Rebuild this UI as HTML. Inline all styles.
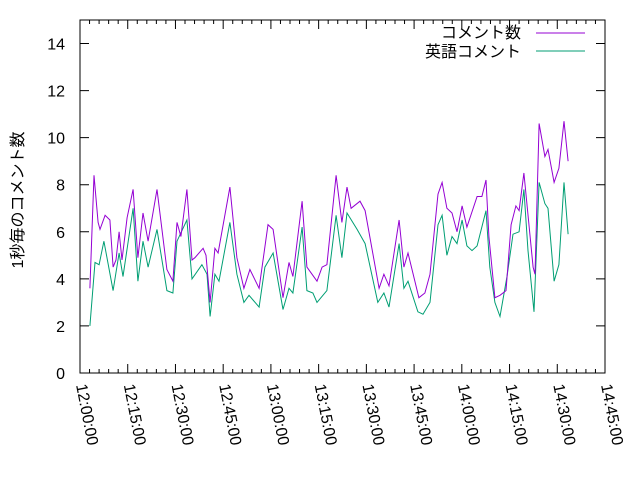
<!DOCTYPE html>
<html><head><meta charset="utf-8"><style>
body{margin:0;background:#fff}
svg text{font-family:"Liberation Sans","Noto Sans CJK JP",sans-serif;font-size:16px;fill:#000}
</style></head><body>
<svg id="chart" width="640" height="480" xmlns="http://www.w3.org/2000/svg">
<rect x="80" y="20" width="525" height="353" fill="none" stroke="#000" stroke-width="1"/>
<g id="axes"></g>
<g id="series"></g>
<text x="0" y="0" transform="translate(23,200) rotate(-90)" text-anchor="middle">1秒毎のコメント数</text>
<g>
<text x="521" y="38" text-anchor="end">コメント数</text>
<line x1="536" y1="33" x2="585" y2="33" stroke="#9400d3"/>
<text x="521" y="57" text-anchor="end">英語コメント</text>
<line x1="536" y1="51" x2="585" y2="51" stroke="#009e73"/>
</g>
</svg>
<script>
const yTicks=[0,2,4,6,8,10,12,14];
const xTickLabels=["12:00:00","12:15:00","12:30:00","12:45:00","13:00:00","13:15:00","13:30:00","13:45:00","14:00:00","14:15:00","14:30:00","14:45:00"];
const totalMinutes=[3.1,4.4,5.7,6.3,7.9,9.4,10.4,11.3,12.3,13.2,14.8,16.7,18.2,19.8,21.4,24.2,27.3,29.2,30.5,31.7,33.6,35.2,36.1,38.7,39.6,40.9,42.4,43.4,47.1,49.3,51.5,53.4,56.3,59.1,60.7,63.8,65.7,66.9,69.8,71.3,74.5,76.1,77.6,80.5,82.3,83.9,85.2,88.0,89.6,94.0,95.5,97.1,100.3,101.8,103.1,106.5,108.4,110.0,112.5,113.8,115.3,116.9,118.5,120.1,121.6,124.8,126.3,127.6,128.5,130.4,132.0,133.9,135.5,137.0,138.0,139.5,142.4,143.0,144.3,146.1,147.1,149.0,150.5,152.1,153.4];
const totalValues=[3.6,8.4,6.4,6.1,6.7,6.5,4.5,4.8,6.0,4.8,6.6,7.8,4.9,6.8,5.6,7.8,4.4,3.9,6.4,5.8,7.8,4.8,4.9,5.3,5.0,3.0,5.3,5.1,7.9,4.9,3.6,4.4,3.6,6.3,6.1,3.2,4.7,4.1,7.3,4.5,3.9,4.5,4.6,8.4,6.4,7.9,7.0,7.3,6.9,3.6,4.2,3.7,6.5,4.5,5.1,3.2,3.4,4.2,7.6,8.1,7.0,6.8,6.0,7.1,6.2,7.5,7.5,8.2,5.8,3.2,3.3,3.5,6.3,7.1,6.9,8.5,4.5,4.2,10.6,9.2,9.5,8.1,8.7,10.7,9.0];
const englishMinutes=[3.1,4.7,6.0,7.5,10.4,12.3,13.5,16.7,18.2,19.8,21.4,24.2,27.3,29.2,30.5,33.6,35.2,38.3,39.9,40.9,42.4,43.7,47.1,49.3,51.5,53.1,56.3,58.1,60.7,63.8,65.7,66.9,69.8,71.3,73.2,74.5,77.6,80.5,82.3,83.9,87.1,89.6,93.6,95.5,97.1,100.3,101.8,103.1,106.2,107.8,110.0,112.5,113.8,115.3,116.9,118.5,120.1,121.6,123.2,124.8,127.6,128.8,130.4,132.0,134.2,136.1,138.0,139.5,140.8,142.7,144.3,146.1,147.1,149.0,150.5,152.1,153.4];
const englishValues=[2.0,4.7,4.6,5.6,3.5,5.1,4.1,7.0,3.9,5.6,4.5,6.1,3.5,3.4,5.6,6.5,4.0,4.6,4.2,2.4,4.2,3.9,6.4,4.2,3.0,3.3,2.8,4.5,5.1,2.7,3.6,3.4,6.2,3.5,3.4,3.0,3.5,6.7,4.9,6.8,6.1,5.5,3.0,3.4,2.8,5.5,3.6,3.9,2.6,2.5,3.0,6.3,6.7,5.0,5.8,5.5,6.5,5.4,5.2,5.4,6.9,4.5,3.0,2.4,4.1,5.9,6.0,7.8,5.2,2.6,8.1,7.2,7.0,3.9,4.6,8.1,5.9];
const NS="http://www.w3.org/2000/svg";
const X0=80,X1=605,Y0=373,Y1=20,MAXMIN=165,YMAX=15;
function xs(m){return X0+m*(X1-X0)/MAXMIN;}
function ys(v){return Y0-v*(Y0-Y1)/YMAX;}
const axes=document.getElementById('axes');
function mk(tag,attrs,parent){const e=document.createElementNS(NS,tag);for(const k in attrs)e.setAttribute(k,attrs[k]);parent.appendChild(e);return e;}
yTicks.forEach(v=>{
  const y=ys(v);
  const l=mk('path',{d:`M${X0},${y}h9M${X1},${y}h-9`,stroke:'#000'},axes);
  
  
  const t=mk('text',{x:65,y:y+6,'text-anchor':'end'},axes);
  t.textContent=v;
  
  
});
for(let m=0;m<=MAXMIN;m+=3){
  const x=xs(m),major=m%15===0,len=major?9:4;
  const l=mk('path',{d:`M${x},${Y0}v${-len}M${x},${Y1}v${len}`,stroke:'#000'},axes);
  
  
}
xTickLabels.forEach((s,i)=>{
  const x=xs(i*15);
  const t=mk('text',{x:0,y:0,transform:`translate(${x-4},${Y0+12}) rotate(79)`},axes);
  t.textContent=s;
  
  
});
const g=document.getElementById('series');
function line(ms,vs,color,name){
  const p=mk('polyline',{points:ms.map((m,i)=>xs(m).toFixed(1)+','+ys(vs[i]).toFixed(1)).join(' '),fill:'none',stroke:color,'stroke-width':1},g);
  
  
}
line(englishMinutes,englishValues,'#009e73','english-comments-line');
line(totalMinutes,totalValues,'#9400d3','comment-count-line');
</script>
</body></html>
